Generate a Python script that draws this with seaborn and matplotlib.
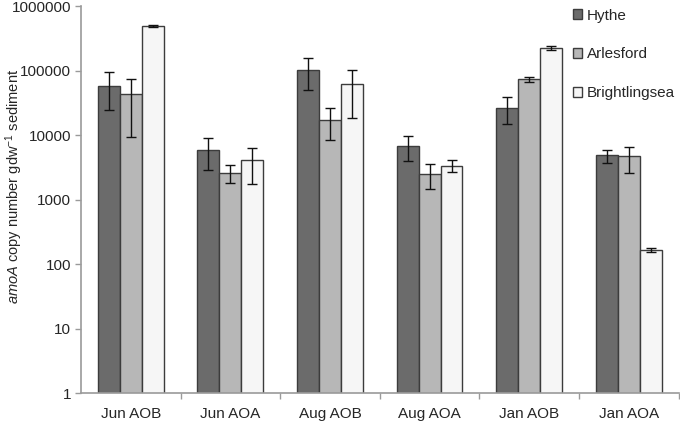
import numpy as np
import pandas as pd
import matplotlib
matplotlib.use('Agg')
import matplotlib.pyplot as plt
import seaborn as sns
from matplotlib.patches import Patch
from matplotlib.ticker import FixedLocator, FixedFormatter

groups = ['Jun AOB', 'Jun AOA', 'Aug AOB', 'Aug AOA', 'Jan AOB', 'Jan AOA']
sites = ['Hythe', 'Arlesford', 'Brightlingsea']

# bar heights per site (copies per g dry weight)
hythe = [59000, 5900, 103000, 6900, 27000, 4900]
arlesford = [43500, 2600, 17300, 2500, 74000, 4700]
brightlingsea = [500000, 4100, 62000, 3380, 223000, 164]

# error bar ends (upper, lower)
hythe_hi = [96000, 9000, 160000, 9900, 40000, 6000]
hythe_lo = [25000, 2900, 51000, 4000, 15000, 3730]
arlesford_hi = [76000, 3400, 26600, 3650, 81000, 6600]
arlesford_lo = [9500, 1840, 8400, 1480, 67000, 2640]
bright_hi = [520000, 6400, 105000, 4100, 240000, 176]
bright_lo = [480000, 1760, 18800, 2680, 208000, 153]

colors = ['#6b6b6b', '#b7b7b7', '#f6f6f6']

sns.set_style('white')
plt.rcParams['font.family'] = ['Liberation Sans', 'DejaVu Sans']
plt.rcParams['mathtext.fontset'] = 'custom'
plt.rcParams['mathtext.rm'] = 'Liberation Sans'
plt.rcParams['mathtext.it'] = 'Liberation Sans:italic'

df = pd.DataFrame({
    'group': groups * 3,
    'site': [s for s in sites for _ in groups],
    'value': hythe + arlesford + brightlingsea,
    'hi': hythe_hi + arlesford_hi + bright_hi,
    'lo': hythe_lo + arlesford_lo + bright_lo,
})

fig = plt.figure(figsize=(6.8, 4.22), dpi=100)
ax = fig.add_axes([0.119, 0.0687, 0.879, 0.916])

sns.barplot(data=df, x='group', y='value', hue='site', order=groups, hue_order=sites,
            palette=colors, width=0.66, edgecolor='#3c3c3c', linewidth=1.0,
            errorbar=None, legend=False, ax=ax)

# error bars placed on the drawn bar patches
bars = [p for p in ax.patches]
for p, (_, row) in zip(bars, df.iterrows()):
    xc = p.get_x() + p.get_width() / 2
    v = row['value']
    ax.errorbar(xc, v, yerr=[[v - row['lo']], [row['hi'] - v]], fmt='none',
                ecolor='#111111', elinewidth=1.0, capsize=3.5, capthick=1.0)

ax.set_yscale('log')
ax.set_ylim(1, 1000000)
ax.set_xlim(-0.5, 5.5)
yt = [1, 10, 100, 1000, 10000, 100000, 1000000]
ax.yaxis.set_major_locator(FixedLocator(yt))
ax.yaxis.set_major_formatter(FixedFormatter([str(t) for t in yt]))
ax.yaxis.set_minor_locator(FixedLocator([]))
ax.tick_params(axis='y', which='major', length=4, width=1, color='#9a9a9a',
               labelsize=11, direction='out', left=True, pad=3)

ax.set_xticks(range(len(groups)))
ax.set_xticklabels(groups)
ax.set_xticks([0.5, 1.5, 2.5, 3.5, 4.5, 5.5], minor=True)
ax.tick_params(axis='x', which='major', length=0, labelsize=11, pad=10)
ax.tick_params(axis='x', which='minor', length=4, width=1, color='#9a9a9a',
               direction='out', bottom=True)

for side in ['top', 'right']:
    ax.spines[side].set_visible(False)
for side in ['left', 'bottom']:
    ax.spines[side].set_color('#9a9a9a')
    ax.spines[side].set_linewidth(1.2)

ax.set_xlabel('')
ax.set_ylabel(r'$\mathit{amoA}$ copy number gdw$^{-1}$ sediment', fontsize=10.5,
              va='center')
ax.yaxis.set_label_coords(-0.112, 0.535)

handles = [Patch(facecolor=c, edgecolor='#3c3c3c', linewidth=1.0) for c in colors]
ax.legend(handles, sites, loc='upper right', bbox_to_anchor=(1.017, 1.03), frameon=False,
          fontsize=11, handlelength=0.6, handleheight=0.6, handletextpad=0.3,
          labelspacing=1.62)

fig.savefig('out.png', dpi=100)
